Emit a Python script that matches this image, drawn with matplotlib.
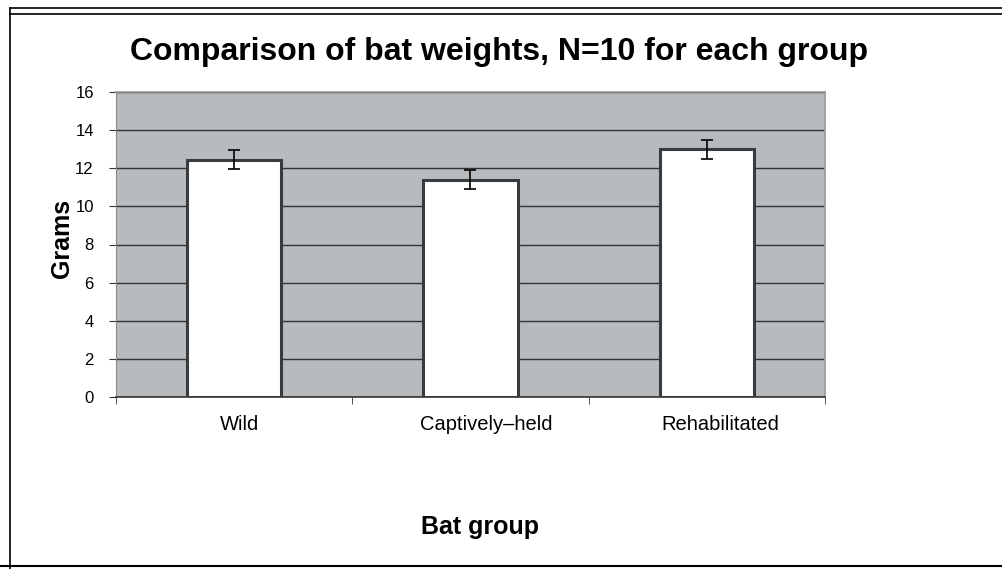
import matplotlib.pyplot as plt
from matplotlib.lines import Line2D
from matplotlib.transforms import ScaledTranslation
import numpy as np

plt.rcParams['font.family'] = ['Liberation Sans', 'DejaVu Sans']

groups = ["Wild", "Captively–held", "Rehabilitated"]
mean_weight = [12.45, 11.4, 13.0]
err_weight = [0.5, 0.5, 0.5]
y_ticks = [0, 2, 4, 6, 8, 10, 12, 14, 16]

W, H = 1003, 569
fig = plt.figure(figsize=(W / 100, H / 100), dpi=100)
ax = fig.add_axes([116 / W, 1 - 397 / H, 709 / W, 305 / H])

x = np.arange(len(groups))
ax.set_facecolor('#b7bbbd')
ax.set_axisbelow(True)
ax.yaxis.grid(True, color='#333333', linewidth=1.0)
ax.bar(x, mean_weight, width=0.4, color='white', edgecolor='#383c3e', linewidth=2.2, zorder=3)
ax.errorbar(x, mean_weight, yerr=err_weight, fmt='none', ecolor='black',
            elinewidth=1.2, capsize=4.5, capthick=1.2, zorder=4)

ax.set_xlim(-0.5, len(groups) - 0.5)
ax.set_ylim(0, 16)
ax.set_yticks(y_ticks)
ax.set_yticklabels([str(v) for v in y_ticks], fontsize=12)
ax.set_xticks(x)
ax.set_xticklabels(groups, fontsize=14.5)
ax.tick_params(axis='x', length=0, pad=13)
# category boundary ticks
ax.set_xticks(np.arange(len(groups) + 1) - 0.5, minor=True)
ax.tick_params(axis='x', which='minor', length=5, direction='out', color='#333333')
ax.tick_params(axis='y', length=5, direction='out', color='#333333', pad=11)

# the labels in the original sit a little right of the bar centres
for lab, dx in zip(ax.get_xticklabels(), [5, 16, 13]):
    lab.set_transform(lab.get_transform() + ScaledTranslation(dx / 100, 0, fig.dpi_scale_trans))

for side in ['top', 'right']:
    ax.spines[side].set_color('#999999')
    ax.spines[side].set_linewidth(1.2)
ax.spines['left'].set_color('#888888')
ax.spines['bottom'].set_color('#333333')
ax.spines['bottom'].set_linewidth(1.2)

fig.text(499 / W, 1 - 52 / H, "Comparison of bat weights, N=10 for each group",
         ha='center', va='center', fontsize=23, fontweight='bold')
fig.text(62 / W, 1 - 238 / H, "Grams", ha='center', va='center', rotation=90,
         fontsize=18, fontweight='bold')
fig.text(480 / W, 1 - 527 / H, "Bat group", ha='center', va='center',
         fontsize=18, fontweight='bold')

# outer frame lines
fig.add_artist(Line2D([10 / W, 1], [1 - 8 / H, 1 - 8 / H], color='black', linewidth=1.2))
fig.add_artist(Line2D([10 / W, 1], [1 - 14 / H, 1 - 14 / H], color='black', linewidth=1.2))
fig.add_artist(Line2D([10 / W, 10 / W], [1 - 8 / H, 0], color='black', linewidth=1.2))
fig.add_artist(Line2D([0, 1], [1 - 566 / H, 1 - 566 / H], color='black', linewidth=1.5))

fig.savefig('out.png', dpi=100)
